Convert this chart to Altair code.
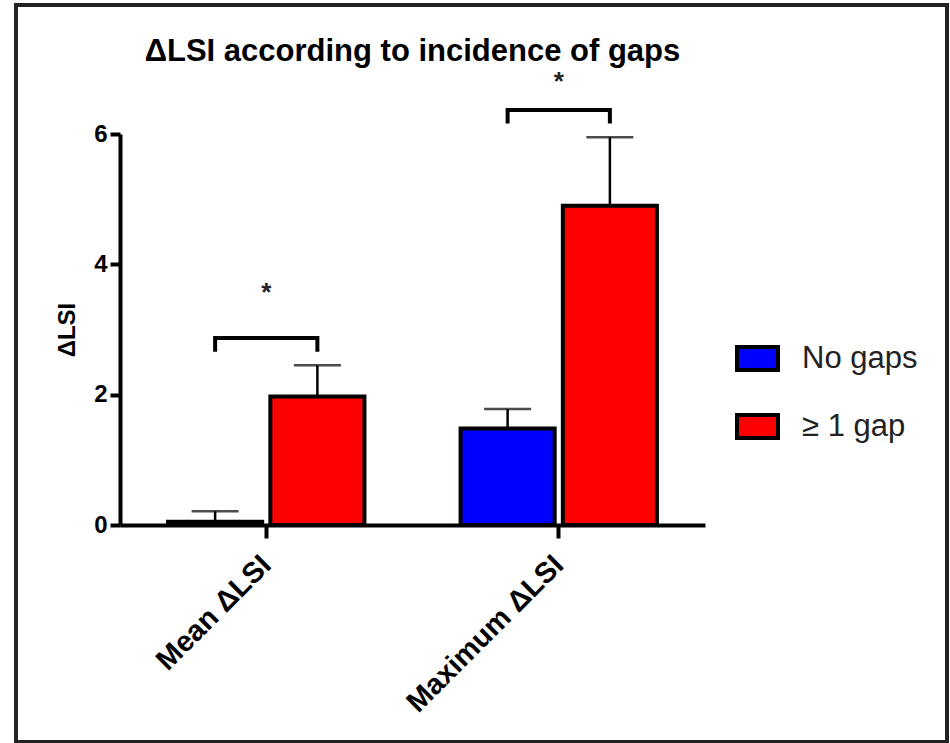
import altair as alt
import pandas as pd

# ---- data -------------------------------------------------------------
categories = ["Mean ΔLSI", "Maximum ΔLSI"]
groups = ["No gaps", "≥ 1 gap"]
colors = ["#0000FF", "#FF0000"]

mean_no_gaps = [0.05, 1.48]
mean_gap = [1.97, 4.90]
sem_no_gaps = [0.16, 0.30]
sem_gap = [0.48, 1.05]

# significance brackets (top of bracket, leg length) and star heights
bracket_top = [2.87, 6.37]
bracket_leg = 0.18
star_y = [3.56, 6.80]
star_text = ["*", "*"]

# ---- tables -----------------------------------------------------------
rows = []
for i, cat in enumerate(categories):
    rows.append({"category": cat, "group": groups[0], "value": mean_no_gaps[i],
                 "upper": mean_no_gaps[i] + sem_no_gaps[i]})
    rows.append({"category": cat, "group": groups[1], "value": mean_gap[i],
                 "upper": mean_gap[i] + sem_gap[i]})
bars_df = pd.DataFrame(rows)

brow = []
for i, cat in enumerate(categories):
    top = bracket_top[i]
    brow += [
        {"category": cat, "group": groups[0], "value": top - bracket_leg, "seq": 0},
        {"category": cat, "group": groups[0], "value": top, "seq": 1},
        {"category": cat, "group": groups[1], "value": top, "seq": 2},
        {"category": cat, "group": groups[1], "value": top - bracket_leg, "seq": 3},
    ]
bracket_df = pd.DataFrame(brow)

star_df = pd.DataFrame({"category": categories, "value": star_y, "label": star_text})

# ---- shared encodings -------------------------------------------------
FONT = "Liberation Sans"

x_enc = alt.X(
    "category:N",
    sort=categories,
    scale=alt.Scale(domain=categories, paddingInner=0, paddingOuter=0),
    axis=alt.Axis(
        title=None, labelAngle=-45, labelAlign="right", labelBaseline="middle",
        labelFont=FONT, labelFontSize=29, labelFontWeight="bold", labelColor="black",
        labelPadding=22, labelLimit=500, domainColor="black", domainWidth=4,
        tickColor="black", tickWidth=4, tickSize=13, grid=False,
    ),
)
xoff_enc = alt.XOffset(
    "group:N", sort=groups,
    scale=alt.Scale(domain=groups, paddingInner=0.08, paddingOuter=0.47),
)
y_scale = alt.Scale(domain=[0, 6], nice=False, zero=True)
y_axis = alt.Axis(
    values=[0, 2, 4, 6], grid=False, labelFont=FONT, labelFontSize=24,
    labelFontWeight="bold", labelColor="black", labelPadding=3,
    domainColor="black", domainWidth=4, tickColor="black", tickWidth=4, tickSize=10,
    titleFont=FONT, titleFontSize=24, titleFontWeight="bold", titleColor="black",
    titlePadding=14,
)


def y_enc(field):
    return alt.Y(field, scale=y_scale, axis=y_axis, title="ΔLSI")


# ---- layers -----------------------------------------------------------
frame = alt.Chart(pd.DataFrame({"k": [0]})).mark_rect(
    filled=False, stroke="#222222", strokeWidth=4
).encode(
    x=alt.value(-104), x2=alt.value(827), y=alt.value(-129), y2=alt.value(608)
)

err_rules = alt.Chart(bars_df).mark_rule(color="black", strokeWidth=2.5).encode(
    x=x_enc, xOffset=xoff_enc, y=y_enc("value:Q"), y2="upper:Q"
)

caps = alt.Chart(bars_df).mark_tick(
    orient="horizontal", size=47, thickness=2.5, color="black"
).encode(x=x_enc, xOffset=xoff_enc, y=y_enc("upper:Q"))

bars = alt.Chart(bars_df).mark_bar(stroke="black", strokeWidth=4, strokeJoin="miter").encode(
    x=x_enc,
    xOffset=xoff_enc,
    y=y_enc("value:Q"),
    color=alt.Color(
        "group:N",
        scale=alt.Scale(domain=groups, range=colors),
        legend=alt.Legend(
            title=None, orient="none", legendX=615, legendY=202, direction="vertical",
            symbolType="M-1,-0.56H1V0.56H-1Z", symbolSize=1681,
            symbolStrokeColor="black", symbolStrokeWidth=4, symbolOpacity=1,
            labelFont=FONT, labelFontSize=31, labelColor="#222222",
            labelOffset=22, rowPadding=26, padding=0,
        ),
    ),
)

brackets = alt.Chart(bracket_df).mark_line(
    color="black", strokeWidth=4, strokeJoin="miter", strokeCap="square"
).encode(
    x=x_enc, xOffset=xoff_enc, y=y_enc("value:Q"),
    detail="category:N", order=alt.Order("seq:Q"),
)

stars = alt.Chart(star_df).mark_text(
    font=FONT, fontSize=26, fontWeight="bold", color="#222222", baseline="middle"
).encode(x=x_enc, y=y_enc("value:Q"), text="label:N")

chart = alt.layer(frame, err_rules, caps, bars, brackets, stars).properties(
    width=585,
    height=391,
    autosize=alt.AutoSizeParams(type="none"),
    padding={"left": 120, "top": 134, "right": 245, "bottom": 218},
    title=alt.Title(
        "ΔLSI according to incidence of gaps", font=FONT, fontSize=31,
        fontWeight="bold", color="black", anchor="middle", frame="group",
        baseline="alphabetic", offset=-89,
    ),
    background="white",
).configure_view(strokeWidth=0)

chart.save("out.html", embed_options={"renderer": "svg", "actions": False})
